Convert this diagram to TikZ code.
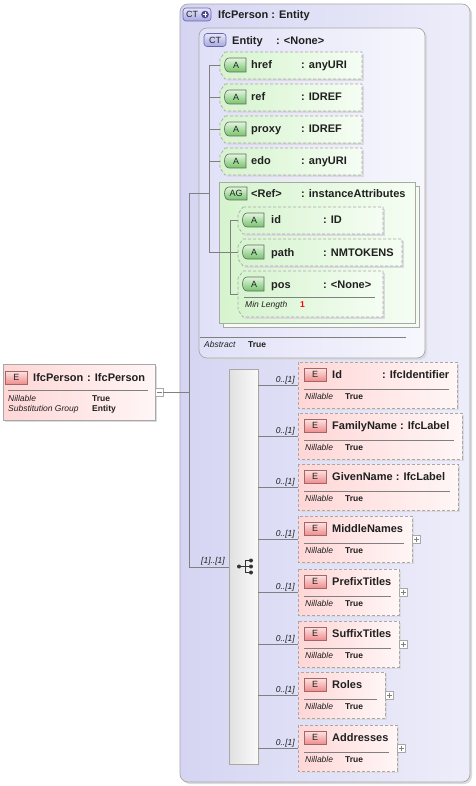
\documentclass[tikz,border=0pt]{standalone}
\usepackage{fontspec}
\setmainfont{Liberation Sans}
\definecolor{lavOL}{HTML}{D5D5F3}
\definecolor{lavOR}{HTML}{EDEDFA}
\definecolor{lavIL}{HTML}{E0E0F8}
\definecolor{lavIR}{HTML}{F7F7FD}
\definecolor{pnkL}{HTML}{FFD6D6}
\definecolor{pnkR}{HTML}{FFF6F6}
\definecolor{grnL}{HTML}{D6F4CE}
\definecolor{grnR}{HTML}{F5FDF3}
\definecolor{boxc}{HTML}{A8A8A8}
\definecolor{connc}{HTML}{808080}
\definecolor{txtc}{HTML}{202020}
\definecolor{shadowc}{HTML}{DADADF}
\definecolor{abT}{HTML}{E2F6DE}
\definecolor{abB}{HTML}{74C46C}
\definecolor{ebT}{HTML}{FFE4E4}
\definecolor{ebB}{HTML}{EE8E8E}
\definecolor{cbT}{HTML}{E6E6FA}
\definecolor{cbB}{HTML}{A8A8E2}
\definecolor{plusc}{HTML}{4A4A8A}
\tikzset{
  conn/.style={draw=connc, line width=0.6pt},
  sep/.style={draw=connc, line width=0.6pt},
  nm/.style={font=\fontsize{11}{13}\selectfont\bfseries, inner sep=0pt, anchor=base west, text=txtc},
  sm/.style={font=\fontsize{8.5}{10}\selectfont\itshape, inner sep=0pt, anchor=base west, text=txtc},
  smb/.style={font=\fontsize{8.5}{10}\selectfont\bfseries, inner sep=0pt, anchor=base west, text=txtc},
  mult/.style={font=\fontsize{8.5}{10}\selectfont\itshape, inner sep=0pt, anchor=base east, text=txtc},
  badgetxt/.style={font=\fontsize{9}{10}\selectfont, inner sep=0pt, text=txtc},
  ctbox/.style={draw=boxc, line width=0.7pt, rounded corners=8pt},
  elbox/.style={draw=boxc, line width=0.7pt, dash pattern=on 3pt off 2pt, left color=pnkL, right color=pnkR},
  elboxs/.style={draw=boxc, line width=0.7pt, left color=pnkL, right color=pnkR},
  atbox/.style={draw=boxc, line width=0.7pt, dash pattern=on 3pt off 2pt, left color=grnL, right color=grnR},
  agbox/.style={draw=boxc, line width=0.7pt, left color=grnL, right color=grnR},
  abadge/.style={draw=black!60, line width=0.6pt, top color=abT, bottom color=abB},
  ebadge/.style={draw=black!60!red!60, line width=0.6pt, top color=ebT, bottom color=ebB, minimum width=22pt, minimum height=13pt, inner sep=0pt, font=\fontsize{9}{10}\selectfont, text=txtc},
  ctbadge/.style={draw=black!55!blue!60, line width=0.6pt, top color=cbT, bottom color=cbB, rounded corners=3pt, inner sep=0pt},
  pmbox/.style={draw=boxc, fill=white, line width=0.5pt, minimum width=8pt, minimum height=8pt, inner sep=0pt},
  seqbox/.style={draw=boxc, line width=0.7pt, left color=black!12, right color=black!2, inner sep=0pt},
}
% attribute box
\newcommand\attr[9]{%
  \fill[shadowc] ({#2+7},{#3+2}) rectangle ({#4+2},{#3+#5+2});
  \draw[atbox] ({#2+5},#3) -- (#4,#3) -- (#4,{#3+#5}) -- ({#2+5},{#3+#5}) -- (#2,{#3+#5-7}) -- (#2,{#3+7}) -- cycle;
  \draw[abadge] ({#2+26},{#3+6}) -- ({#2+9},{#3+6}) .. controls ({#2+3},{#3+6}) and ({#2+3},{#3+20}) .. ({#2+9},{#3+20}) -- ({#2+26},{#3+20}) -- cycle;
  \node[badgetxt] (#1b) at ({#2+16},{#3+13}) {A};
  \node[nm] (#1n) at (#8,{#3+17}) {#6};
  \node[nm] (#1t) at (#9,{#3+17}) {#7};
  \coordinate (#1c) at (#2,{#3+#5/2});
}
% element box in the sequence
\newcommand\elem[4]{%
  \fill[shadowc] (300,{#2+2}) rectangle ({#3+2},{#2+48});
  \draw[elbox] (298,#2) rectangle (#3,{#2+46});
  \node[ebadge] (#1b) at (315,{#2+12.5}) {E};
  \node[nm] (#1n) at (332,{#2+16.5}) {#4};
  \draw[sep] (304,{#2+27}) -- ({#3-8},{#2+27});
  \node[sm] (#1k) at (305,{#2+37}) {Nillable};
  \node[smb] (#1v) at (345,{#2+37}) {True};
  \coordinate (#1c) at (298,{#2+23});
  \coordinate (#1s) at (258,{#2+23});
  \draw[conn] (#1s) -- (#1c);
  \node[mult] (#1m) at (295,{#2+20}) {0..[1]};
}
\newcommand\plusbox[3]{%
  \node[pmbox] (#1) at (#2,#3) {};
  \draw[connc, line width=0.5pt] ({#2-2.5},#3) -- ({#2+2.5},#3) ({#2},{#3-2.5}) -- ({#2},{#3+2.5});
}
\begin{document}
\begin{tikzpicture}[x=1pt,y=-1pt]
\useasboundingbox (0,0) rectangle (475,786);
\fill[white] (0,0) rectangle (475,786);

% outer complex type IfcPerson
\fill[shadowc, rounded corners=8pt] (182,6) rectangle (472,784);
\draw[ctbox, left color=lavOL, right color=lavOR] (180,4) rectangle (470,782);
\node[ctbadge, minimum width=28pt, minimum height=13pt] (tb) at (197,14.5) {};
\node[badgetxt] (tbt) at (192,14.5) {CT};
\fill[plusc] (205,14.5) circle (3.8pt);
\draw[white, line width=1pt] (202.6,14.5) -- (207.4,14.5) (205,12.1) -- (205,16.9);
\node[nm] (tn) at (218,19) {IfcPerson : Entity};

% inner Entity complex type
\fill[shadowc, rounded corners=8pt] (201,30) rectangle (427,360);
\draw[ctbox, left color=lavIL, right color=lavIR] (199,28) rectangle (425,358);
\node[ctbadge, minimum width=22pt, minimum height=13pt] (eb) at (215,40) {};
\node[badgetxt] (ebt) at (215,40) {CT};
\node[nm] (en) at (232,44.5) {Entity};
\node[nm] (et) at (276,44.5) {: <None>};

% attributes of Entity
\attr{href}{220}{52}{362}{27}{href}{: anyURI}{251}{301}
\attr{ref}{220}{84}{362}{27}{ref}{: IDREF}{251}{301}
\attr{proxy}{220}{116}{362}{27}{proxy}{: IDREF}{251}{301}
\attr{edo}{220}{148}{362}{27}{edo}{: anyURI}{251}{301}

% attribute group
\draw[boxc, line width=0.7pt, fill=grnR] (223,186) rectangle (419,327);
\draw[agbox] (219,182) rectangle (415,323);
\draw[abadge] (247,187) -- (229,187) .. controls (223,187) and (223,200) .. (229,200) -- (247,200) -- cycle;
\node[badgetxt] (agb) at (236,193.5) {AG};
\node[nm] (agn) at (251,197.5) {<Ref>};
\node[nm] (agt) at (301,197.5) {: instanceAttributes};

\attr{id}{238}{207}{383}{27}{id}{: ID}{271}{323}
\attr{path}{238}{239}{402}{27}{path}{: NMTOKENS}{271}{323}
\attr{pos}{238}{271}{383}{46}{pos}{: <None>}{271}{323}
\draw[sep] (244,297) -- (375,297);
\node[sm] (mlk) at (245,307.5) {Min Length};
\node[smb, text=red] (mlv) at (300,307.5) {1};

% abstract
\draw[sep] (200,337) -- (406,337);
\node[sm] (abk) at (204,347.5) {Abstract};
\node[smb] (abv) at (248,347.5) {True};

% connectors inside Entity
\draw[conn] (hrefc) -- ++(-11,0) |- (pathc);
\draw[conn] (refc) -- ++(-11,0);
\draw[conn] (proxyc) -- ++(-11,0);
\draw[conn] (edoc) -- ++(-11,0);
\draw[conn] (idc) -- ++(-8,0) |- (posc);
\coordinate (agj) at (209,193);
\coordinate (oj) at (189,193);
\coordinate (sqj) at (189,567);
\draw[conn] (oj) -- (agj);

% root element IfcPerson
\fill[shadowc] (5,366) rectangle (157,422);
\draw[elboxs] (3,364) rectangle (155,420);
\node[ebadge] (pb) at (16.5,377.5) {E};
\node[nm] (pn) at (33,381) {IfcPerson};
\node[nm] (pt) at (87,381) {: IfcPerson};
\draw[sep] (8,390) -- (148,390);
\node[sm] (pk1) at (8,401) {Nillable};
\node[smb] (pv1) at (92,401) {True};
\node[sm] (pk2) at (8,411.5) {Substitution Group};
\node[smb] (pv2) at (92,411.5) {Entity};
\node[pmbox] (pm) at (159,392) {};
\draw[connc, line width=0.5pt] (156.5,392) -- (161.5,392);
\draw[conn] (pm.east) -- (oj |- pm.east);
\draw[conn] (oj) -- (sqj);

% sequence
\fill[shadowc] (231,371) rectangle (260,766);
\node[seqbox, minimum width=29pt, minimum height=395pt] (seq) at (243.5,566.5) {};
\draw[conn] (sqj) -- (sqj -| seq.west);
\node[mult] (sqm) at (225,563) {[1]..[1]};
\draw[black!80, line width=0.8pt] (239,566.5) -- (245,566.5) (245,560.5) -- (245,572.5)
  (245,560.5) -- (251,560.5) (245,566.5) -- (251,566.5) (245,572.5) -- (251,572.5);
\fill[black!80] (239,566.5) circle (2pt) (251,560.5) circle (2pt) (251,566.5) circle (2pt) (251,572.5) circle (2pt);

% elements
\elem{eid}{362}{457}{Id}
\node[nm] (eidt) at (382,378.5) {: IfcIdentifier};
\elem{efam}{413}{462}{FamilyName : IfcLabel}
\elem{egiv}{464}{458}{GivenName : IfcLabel}
\elem{emid}{516}{412}{MiddleNames}
\plusbox{emidp}{416.5}{539}
\elem{epre}{569}{399}{PrefixTitles}
\plusbox{eprep}{403.5}{592}
\elem{esuf}{621}{399}{SuffixTitles}
\plusbox{esufp}{403.5}{644}
\elem{erol}{672}{385}{Roles}
\plusbox{erolp}{389.5}{695}
\elem{eadd}{725}{397}{Addresses}
\plusbox{eaddp}{401.5}{748}
\end{tikzpicture}
\end{document}
